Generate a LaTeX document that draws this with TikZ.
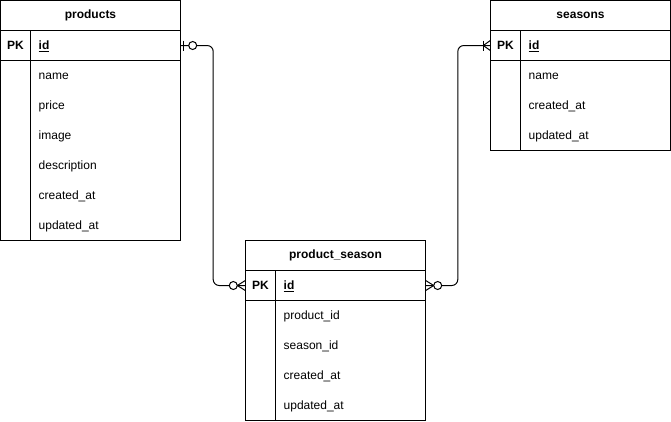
\documentclass[tikz,border=0pt]{standalone}
\usepackage{fontspec}
\setmainfont{Liberation Sans}
\usetikzlibrary{positioning}
\tikzset{
  tbl/.style={draw,line width=1pt},
  hdr/.style={inner sep=0pt,font=\fontsize{12}{14}\selectfont\bfseries},
  pkrow/.style={inner sep=0pt,minimum width=180pt,minimum height=30pt},
  fld/.style={anchor=west,inner sep=0pt,yshift=-1pt},
  rel/.style={draw,line width=1pt,rounded corners=6pt},
  endmark/.style={draw,line width=1pt,fill=white},
}

\begin{document}
\begin{tikzpicture}[x=1pt,y=-1pt,font=\fontsize{12}{14}\selectfont]
    \useasboundingbox (-0.5,-0.5) rectangle (670.5,420.5);
    % products
    \draw[tbl] (0,0) rectangle (180,240);
    \draw[tbl] (0,30)--(180,30) (0,60)--(180,60) (30,30)--(30,240);
    \node[hdr] (products) at (90,15) {products};
    \node[pkrow] (productspk) at (90,45) {};
    \node[hdr] at (15,45) {PK}; \node[fld,hdr,anchor=west] at (38,45) {\underline{id}};
    \foreach \f [count=\i] in {name,price,image,description,created\_at,updated\_at}
      \node[fld] at (38,45+30*\i) {\f};
    % seasons
    \draw[tbl] (490,0) rectangle (670,150);
    \draw[tbl] (490,30)--(670,30) (490,60)--(670,60) (520,30)--(520,150);
    \node[hdr] (seasons) at (580,15) {seasons};
    \node[pkrow] (seasonspk) at (580,45) {};
    \node[hdr] at (505,45) {PK}; \node[fld,hdr,anchor=west] at (528,45) {\underline{id}};
    \foreach \f [count=\i] in {name,created\_at,updated\_at}
      \node[fld] at (528,45+30*\i) {\f};
    % product_season
    \draw[tbl] (245,240) rectangle (425,420);
    \draw[tbl] (245,270)--(425,270) (245,300)--(425,300) (275,270)--(275,420);
    \node[hdr] (productseason) at (335,255) {product\_season};
    \node[pkrow] (productseasonpk) at (335,285) {};
    \node[hdr] at (260,285) {PK}; \node[fld,hdr,anchor=west] at (283,285) {\underline{id}};
    \foreach \f [count=\i] in {product\_id,season\_id,created\_at,updated\_at}
      \node[fld] at (283,285+30*\i) {\f};
    % relations
    \draw[rel] (productspk.east) -- ++(32.5,0) |- (productseasonpk.west);
    \draw[rel] (seasonspk.west) -- ++(-32.5,0) |- (productseasonpk.east);
    % zero or one
    \draw[endmark] ([xshift=3]productspk.east) ++(0,-5) -- ++(0,10);
    \draw[endmark] ([xshift=12]productspk.east) circle (4);
    % one or many
    \draw[endmark] ([xshift=-7]seasonspk.west) ++(0,-5) -- ++(0,10);
    \draw[endmark,fill=none] (seasonspk.west) ++(0,-5) -- ++(-7,5) -- ++(7,5);
    % zero or many
    \draw[endmark,fill=none] (productseasonpk.west) ++(0,-5) -- ++(-8,5) -- ++(8,5);
    \draw[endmark] ([xshift=-12]productseasonpk.west) circle (4);
    \draw[endmark,fill=none] (productseasonpk.east) ++(0,-5) -- ++(8,5) -- ++(-8,5);
    \draw[endmark] ([xshift=12]productseasonpk.east) circle (4);
\end{tikzpicture}
\end{document}
